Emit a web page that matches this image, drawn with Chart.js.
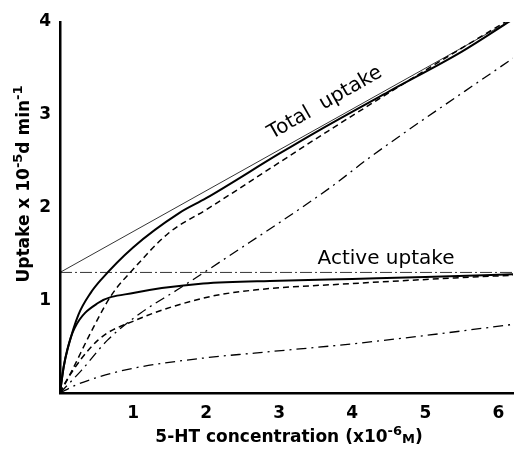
<!DOCTYPE html>
<html><head><meta charset="utf-8">
<script src="https://cdn.jsdelivr.net/npm/chart.js@4"></script>
<style>html,body{margin:0;background:#fff}#wrap{width:515px;height:452px}</style>
</head><body><div id="wrap"><canvas id="c"></canvas></div>
<script>
/* values (x = 5-HT conc, y = uptake) */
const totX=[0,0.05,0.11,0.25,0.42,0.56,1.0,1.63,2.0,3.0,3.54,4.5,5.5,6.2];
const totY=[0,0.28,0.49,0.84,1.08,1.22,1.57,1.94,2.1,2.58,2.83,3.25,3.68,4.03];
const actX=[0,0.05,0.1,0.2,0.52,1.02,1.96,3,4,5,6.2];
const actY=[0,0.28,0.47,0.7,0.97,1.08,1.18,1.21,1.23,1.25,1.28];
const totDashX=[0,0.15,0.42,0.7,1.02,1.48,2.03,3.68,5,6.2];
const totDashY=[0,0.22,0.65,1.05,1.35,1.72,1.99,2.83,3.48,4.05];
const actDashX=[0,0.07,0.52,1.02,2.0,2.66,4,5.4,6.2];
const actDashY=[0,0.11,0.57,0.78,1.03,1.11,1.18,1.24,1.27];
const totDotX=[0,0.3,0.65,1.1,1.6,2.28,3.69,4.24,6.2];
const totDotY=[0,0.25,0.57,0.86,1.11,1.46,2.21,2.54,3.61];
const actDotX=[0,0.2,0.52,1.02,2.0,2.66,4,5,6.2];
const actDotY=[0,0.08,0.17,0.27,0.38,0.43,0.53,0.62,0.74];
const asymX=[0,6.2], asymY=[1.3,4.03];
const vmaxX=[0,6.2], vmaxY=[1.3,1.3];
const xTicks=[1,2,3,4,5,6], yTicks=[1,2,3,4];

const pts=(xs,ys)=>xs.map((x,i)=>({x,y:ys[i]}));
const F="'DejaVu Sans',sans-serif";
function ds(xs,ys,w,dash,smooth){return{data:pts(xs,ys),borderColor:'#000',borderWidth:w,borderDash:dash,pointRadius:0,fill:false,showLine:true,cubicInterpolationMode:smooth?'monotone':'default',tension:0};}

// rich text: segments [text, 0 normal | 1 superscript | 2 small]
function rich(ctx,segs,x,y,size){
  const f=s=>'bold '+(s[1]?Math.round(size*0.75):size)+'px '+F;
  let w=0;segs.forEach(s=>{ctx.font=f(s);w+=ctx.measureText(s[0]).width;});
  let cx=x-w/2;
  segs.forEach(s=>{ctx.font=f(s);
    ctx.fillText(s[0],cx,y+(s[1]==1?-size*0.4:s[1]==2?size*0.08:0));cx+=ctx.measureText(s[0]).width;});
}
const labels={id:'labels',afterDraw(ch){
  const c=ch.ctx;c.save();c.fillStyle='#000';c.textBaseline='middle';c.textAlign='left';
  rich(c,[['5-HT concentration (x10',0],['-6',1],['M',2],[')',0]],289,438,17);
  c.save();c.translate(25,184);c.rotate(-Math.PI/2);
  rich(c,[['Uptake x 10',0],['-5',1],['d min',0],['-1',1]],0,0,17);c.restore();
  c.font='20px '+F;c.textAlign='center';
  c.fillText('Active uptake',386,259);
  c.save();c.translate(325,103);c.rotate(-0.52);c.fillText('Total  uptake',0,0);c.restore();
  c.restore();
}};

new Chart(document.getElementById('c'),{type:'scatter',
  data:{datasets:[
    ds(asymX,asymY,0.8,[],false),
    ds(vmaxX,vmaxY,0.8,[12,3,2,3],false),
    ds(totX,totY,2,[],true),
    ds(actX,actY,2,[],true),
    ds(totDashX,totDashY,1.5,[6,4],true),
    ds(actDashX,actDashY,1.5,[6,4],true),
    ds(totDotX,totDotY,1.3,[10,5,2,5],true),
    ds(actDotX,actDotY,1.3,[10,5,2,5],true)
  ]},
  options:{responsive:true,maintainAspectRatio:false,animation:false,
    layout:{padding:{top:22,right:2,left:0,bottom:0}},
    plugins:{legend:{display:false},tooltip:{enabled:false}},
    scales:{
      x:{type:'linear',min:0,max:6.2,afterFit:s=>{s.height=59;},
        afterBuildTicks:s=>{s.ticks=xTicks.map(v=>({value:v}));},
        grid:{display:false,drawTicks:false},border:{display:true,color:'#000',width:2.5},
        ticks:{color:'#000',padding:10,font:{family:F,size:17,weight:'bold'}}},
      y:{type:'linear',min:0,max:4,afterFit:s=>{s.width=60;},
        afterBuildTicks:s=>{s.ticks=yTicks.map(v=>({value:v}));},
        grid:{display:false,drawTicks:false},border:{display:true,color:'#000',width:2.5},
        ticks:{color:'#000',padding:9,font:{family:F,size:17,weight:'bold'}}}
    }},
  plugins:[labels]});
</script></body></html>
